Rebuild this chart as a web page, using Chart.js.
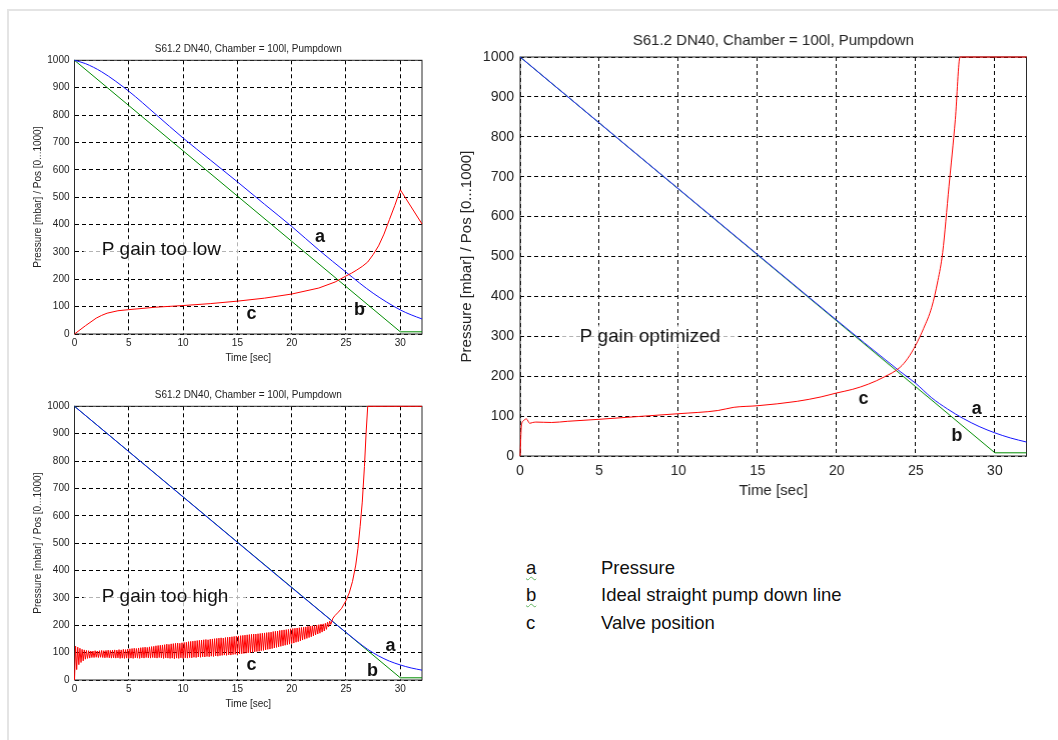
<!DOCTYPE html>
<html>
<head>
<meta charset="utf-8">
<script src="https://cdn.jsdelivr.net/npm/chart.js@4.4.1/dist/chart.umd.min.js"></script>
<style>
  body { margin: 0; width: 1058px; height: 740px; background: #fff; position: relative; overflow: hidden;
         font-family: "Liberation Sans", Arial, sans-serif; }
  .frame { position: absolute; left: 7px; top: 9px; right: 0; bottom: 0;
           border-left: 2px solid #e4e4e4; border-top: 2px solid #e4e4e4; }
  .panel { position: absolute; }
  .key { position: absolute; font-size: 18.5px; line-height: 22px; color: #111; white-space: nowrap; }
  .key.letter { left: 526px; }
  .key.text { left: 601px; }
  .squiggle { text-decoration: underline wavy #62b462; text-decoration-thickness: 1px; text-underline-offset: 2px; }
</style>
</head>
<body>
<div class="frame"></div>

<div class="panel" style="left:30px; top:40px; width:400px; height:325px;"><canvas id="lowChart"></canvas></div>
<div class="panel" style="left:30px; top:385.7px; width:400px; height:325px;"><canvas id="highChart"></canvas></div>
<div class="panel" style="left:450px; top:25px; width:585.5px; height:476px;"><canvas id="optChart"></canvas></div>

<!-- key below the big plot -->
<div class="key letter squiggle" style="top:557px;">a</div>
<div class="key text" style="top:557px;">Pressure</div>
<div class="key letter squiggle" style="top:584px;">b</div>
<div class="key text" style="top:584px;">Ideal straight pump down line</div>
<div class="key letter" style="top:612px;">c</div>
<div class="key text" style="top:612px;">Valve position</div>

<script>
// Shared texts and ticks
const plotTitle = 'S61.2 DN40, Chamber = 100l, Pumpdown';
const timeLabel = 'Time [sec]';
const pressureLabel = 'Pressure [mbar] / Pos [0...1000]';
const timeTicks = [0, 5, 10, 15, 20, 25, 30];
const pressureTicks = [0, 100, 200, 300, 400, 500, 600, 700, 800, 900, 1000];

// b: ideal straight pump down line (same in all plots)
const idealTime = [0, 30, 32];
const idealLine = [1000, 8, 8];

// --- P gain too low ---
const lowPressureTime = [0, 1, 2.5, 5, 7.5, 10, 12.5, 15, 17.5, 20, 22.5, 25, 27.5, 30, 31, 32];
const lowPressure = [1000, 988, 958, 887, 802, 716, 636, 556, 474, 393, 307, 226, 149, 88, 70, 55];
const lowValveTime = [0, 1, 2, 2.5, 3, 4, 5, 7.5, 10, 12.5, 15, 17.5, 20, 22.5, 24, 25, 25.5, 26, 26.5, 27, 27.5, 28, 28.5, 29, 29.5, 30, 32];
const lowValve = [0, 30, 58, 68, 76, 85, 89, 98, 104, 111, 120, 131, 146, 168, 190, 212, 222, 234, 247, 263, 290, 322, 365, 418, 470, 527, 402];

// --- P gain too high ---
const highPressureTime = [0, 15, 24, 25, 26, 27, 28, 29, 30, 31, 32];
const highPressure = [1000, 503, 206, 174, 142, 112, 88, 69, 55, 44, 36];
// valve oscillation, one sample every 0.1 s from t = 0
const highWaveStep = 0.1;
const highValveWave = [
  0, 124, 38, 120, 56, 116, 64, 112, 70, 110,
  76, 108, 79, 107, 80, 106, 82, 106, 82, 107,
  83, 106, 82, 107, 83, 108, 82, 107, 81, 108,
  82, 109, 81, 108, 80, 109, 81, 110, 80, 109,
  81, 111, 79, 110, 80, 112, 79, 111, 80, 113,
  79, 114, 80, 115, 79, 116, 81, 115, 80, 117,
  79, 118, 81, 119, 80, 120, 82, 119, 81, 121,
  80, 122, 82, 123, 81, 125, 80, 126, 82, 127,
  81, 128, 79, 129, 81, 131, 80, 130, 79, 132,
  80, 133, 78, 134, 80, 135, 79, 134, 81, 136,
  79, 137, 81, 138, 80, 140, 82, 141, 81, 142,
  83, 143, 82, 144, 84, 145, 83, 146, 85, 147,
  84, 148, 86, 147, 85, 149, 87, 150, 86, 151,
  88, 152, 87, 153, 89, 154, 90, 153, 91, 155,
  90, 156, 92, 157, 91, 158, 93, 159, 94, 160,
  93, 161, 95, 162, 96, 163, 97, 164, 98, 165,
  99, 166, 100, 167, 101, 168, 103, 168, 104, 169,
  105, 170, 107, 171, 108, 172, 110, 173, 112, 174,
  113, 175, 115, 177, 117, 178, 119, 179, 121, 181,
  123, 182, 125, 183, 127, 184, 129, 185, 131, 187,
  133, 188, 135, 189, 138, 190, 140, 191, 143, 192,
  146, 193, 149, 194, 152, 196, 155, 197, 158, 198,
  161, 199, 165, 201, 168, 202, 171, 204, 175, 205,
  179, 207, 185, 211, 194, 215, 203
];
const highValveRiseTime = [23.8, 24.0, 24.3, 24.6, 25.0, 25.3, 25.6, 25.9, 26.1, 26.3, 26.5, 26.7, 26.85, 27.0, 32];
const highValveRise = [226, 236, 248, 262, 290, 318, 360, 420, 480, 560, 650, 780, 900, 1000, 1000];

// --- P gain optimized ---
const optPressureTime = [0, 15, 24, 25, 26, 27, 28, 29, 30, 31, 32];
const optPressure = [1000, 505, 212, 182, 146, 118, 94, 74, 58, 45, 35];
const optValveTime = [0, 0.08, 0.2, 0.4, 0.6, 0.8, 1, 2, 3, 5, 7.5, 10, 12.5, 13.5, 15, 17.5, 19, 20, 21, 22, 23, 24, 24.5, 25, 25.5, 26, 26.4, 26.7, 27.1, 27.5, 27.8, 32];
const optValve = [0, 75, 88, 93, 82, 84, 85, 84, 87, 92, 99, 106, 114, 122, 126, 137, 148, 158, 167, 180, 198, 222, 245, 278, 320, 372, 440, 510, 676, 843, 1000, 1000];

// Text inside the plots (positions in time / pressure units)
const lowNotes = [
  { text: 'P gain too low', t: 2.5, v: 308, big: true },
  { text: 'a', t: 22.6, v: 354 },
  { text: 'b', t: 26.25, v: 86 },
  { text: 'c', t: 16.3, v: 73 }
];
const highNotes = [
  { text: 'P gain too high', t: 2.5, v: 304, big: true },
  { text: 'a', t: 29.1, v: 125 },
  { text: 'b', t: 27.45, v: 33 },
  { text: 'c', t: 16.3, v: 55 }
];
const optNotes = [
  { text: 'P gain optimized', t: 3.76, v: 300, big: true },
  { text: 'a', t: 28.85, v: 117 },
  { text: 'b', t: 27.6, v: 50 },
  { text: 'c', t: 21.7, v: 142 }
];

const fontFamily = '"Liberation Sans", Arial, sans-serif';
const red = 'rgb(255, 0, 0)';
const blue = 'rgb(20, 20, 255)';
const green = 'rgb(0, 140, 0)';

function toPoints(times, values) {
  return times.map((t, i) => ({ x: t, y: values[i] }));
}

// Black box round the plot area, drawn under the curves
const framePlugin = {
  id: 'frame',
  beforeDatasetsDraw(chart) {
    const { ctx, chartArea } = chart;
    ctx.save();
    ctx.strokeStyle = '#2a2a2a';
    ctx.lineWidth = 1;
    ctx.strokeRect(chartArea.left, chartArea.top, chartArea.right - chartArea.left, chartArea.bottom - chartArea.top);
    ctx.restore();
  }
};

// Labels drawn at data positions
function notesPlugin(notes) {
  return {
    id: 'notes',
    afterDatasetsDraw(chart) {
      const { ctx, scales } = chart;
      ctx.save();
      ctx.textBaseline = 'middle';
      notes.forEach(n => {
        const x = scales.x.getPixelForValue(n.t);
        const y = scales.y.getPixelForValue(n.v);
        if (n.big) {
          ctx.font = `19px ${fontFamily}`;
          ctx.textAlign = 'left';
          const w = ctx.measureText(n.text).width;
          ctx.fillStyle = 'rgba(255,255,255,0.7)';
          ctx.fillRect(x - 18, y - 11, w + 36, 22);
        } else {
          ctx.font = `bold 18px ${fontFamily}`;
          ctx.textAlign = 'center';
        }
        ctx.fillStyle = '#111';
        ctx.fillText(n.text, x, y);
      });
      ctx.restore();
    }
  };
}

function pumpChart(id, series, notes, look) {
  const datasets = series.map(s => ({
    data: s.points,
    borderColor: s.color,
    borderWidth: 1,
    pointRadius: 0,
    fill: false,
    clip: 2,
    tension: s.smooth ? 0.4 : 0,
    cubicInterpolationMode: s.smooth ? 'monotone' : 'default'
  }));

  return new Chart(document.getElementById(id), {
    type: 'line',
    data: { datasets: datasets },
    options: {
      animation: false,
      responsive: true,
      maintainAspectRatio: false,
      devicePixelRatio: 1,
      layout: { padding: { left: 0, right: look.padRight, top: 0, bottom: 0 } },
      plugins: {
        legend: { display: false },
        tooltip: { enabled: false },
        title: {
          display: true,
          fullSize: false,
          text: plotTitle,
          color: '#222',
          font: { family: fontFamily, size: look.titleSize, weight: 'normal' },
          padding: { top: look.titleTop, bottom: look.titleBottom }
        }
      },
      scales: {
        x: {
          type: 'linear',
          min: 0,
          max: 32,
          afterBuildTicks: axis => { axis.ticks = timeTicks.map(v => ({ value: v })); },
          afterFit: axis => { axis.height = look.xHeight; },
          grid: { color: '#000', lineWidth: 1, drawTicks: false },
          border: { display: false, dash: [4, 3] },
          ticks: { color: '#222', padding: look.xTickPad, maxRotation: 0,
                   callback: v => String(v),
                   font: { family: fontFamily, size: look.tickSize } },
          title: { display: true, text: timeLabel, color: '#222',
                   font: { family: fontFamily, size: look.axisSize },
                   padding: { top: 0, bottom: look.xTitlePad } }
        },
        y: {
          type: 'linear',
          min: 0,
          max: 1000,
          afterBuildTicks: axis => { axis.ticks = pressureTicks.map(v => ({ value: v })); },
          afterFit: axis => { axis.width = look.yWidth; },
          grid: { color: '#000', lineWidth: 1, drawTicks: false },
          border: { display: false, dash: [4, 3] },
          ticks: { color: '#222', padding: look.yTickPad,
                   callback: v => String(v),
                   font: { family: fontFamily, size: look.tickSize } },
          title: { display: true, text: pressureLabel, color: '#222',
                   font: { family: fontFamily, size: look.axisSize },
                   padding: { top: look.yTitlePad, bottom: 0 } }
        }
      }
    },
    plugins: [framePlugin, notesPlugin(notes)]
  });
}

const smallLook = {
  padRight: 8, titleSize: 10, titleTop: 3, titleBottom: 5.3,
  xHeight: 31, xTickPad: 3.3, xTitlePad: 1,
  yWidth: 44.5, yTickPad: 5, yTitlePad: 2.3,
  tickSize: 10, axisSize: 10
};
const bigLook = {
  padRight: 10, titleSize: 15, titleTop: 6.7, titleBottom: 7.3,
  xHeight: 45, xTickPad: 6.3, xTitlePad: 1,
  yWidth: 70, yTickPad: 6, yTitlePad: 8,
  tickSize: 14, axisSize: 15
};

const highWave = highValveWave.map((v, i) => ({ x: +(i * highWaveStep).toFixed(2), y: v }));

pumpChart('lowChart', [
  { points: toPoints(lowValveTime, lowValve), color: red, smooth: false },
  { points: toPoints(lowPressureTime, lowPressure), color: blue, smooth: true },
  { points: toPoints(idealTime, idealLine), color: green, smooth: false }
], lowNotes, smallLook);

pumpChart('highChart', [
  { points: highWave.concat(toPoints(highValveRiseTime, highValveRise)), color: red, smooth: false },
  { points: toPoints(highPressureTime, highPressure), color: blue, smooth: true },
  { points: toPoints(idealTime, idealLine), color: green, smooth: false }
], highNotes, smallLook);

pumpChart('optChart', [
  { points: toPoints(optValveTime, optValve), color: red, smooth: true },
  { points: toPoints(optPressureTime, optPressure), color: blue, smooth: true },
  { points: toPoints(idealTime, idealLine), color: green, smooth: false }
], optNotes, bigLook);
</script>
</body>
</html>
